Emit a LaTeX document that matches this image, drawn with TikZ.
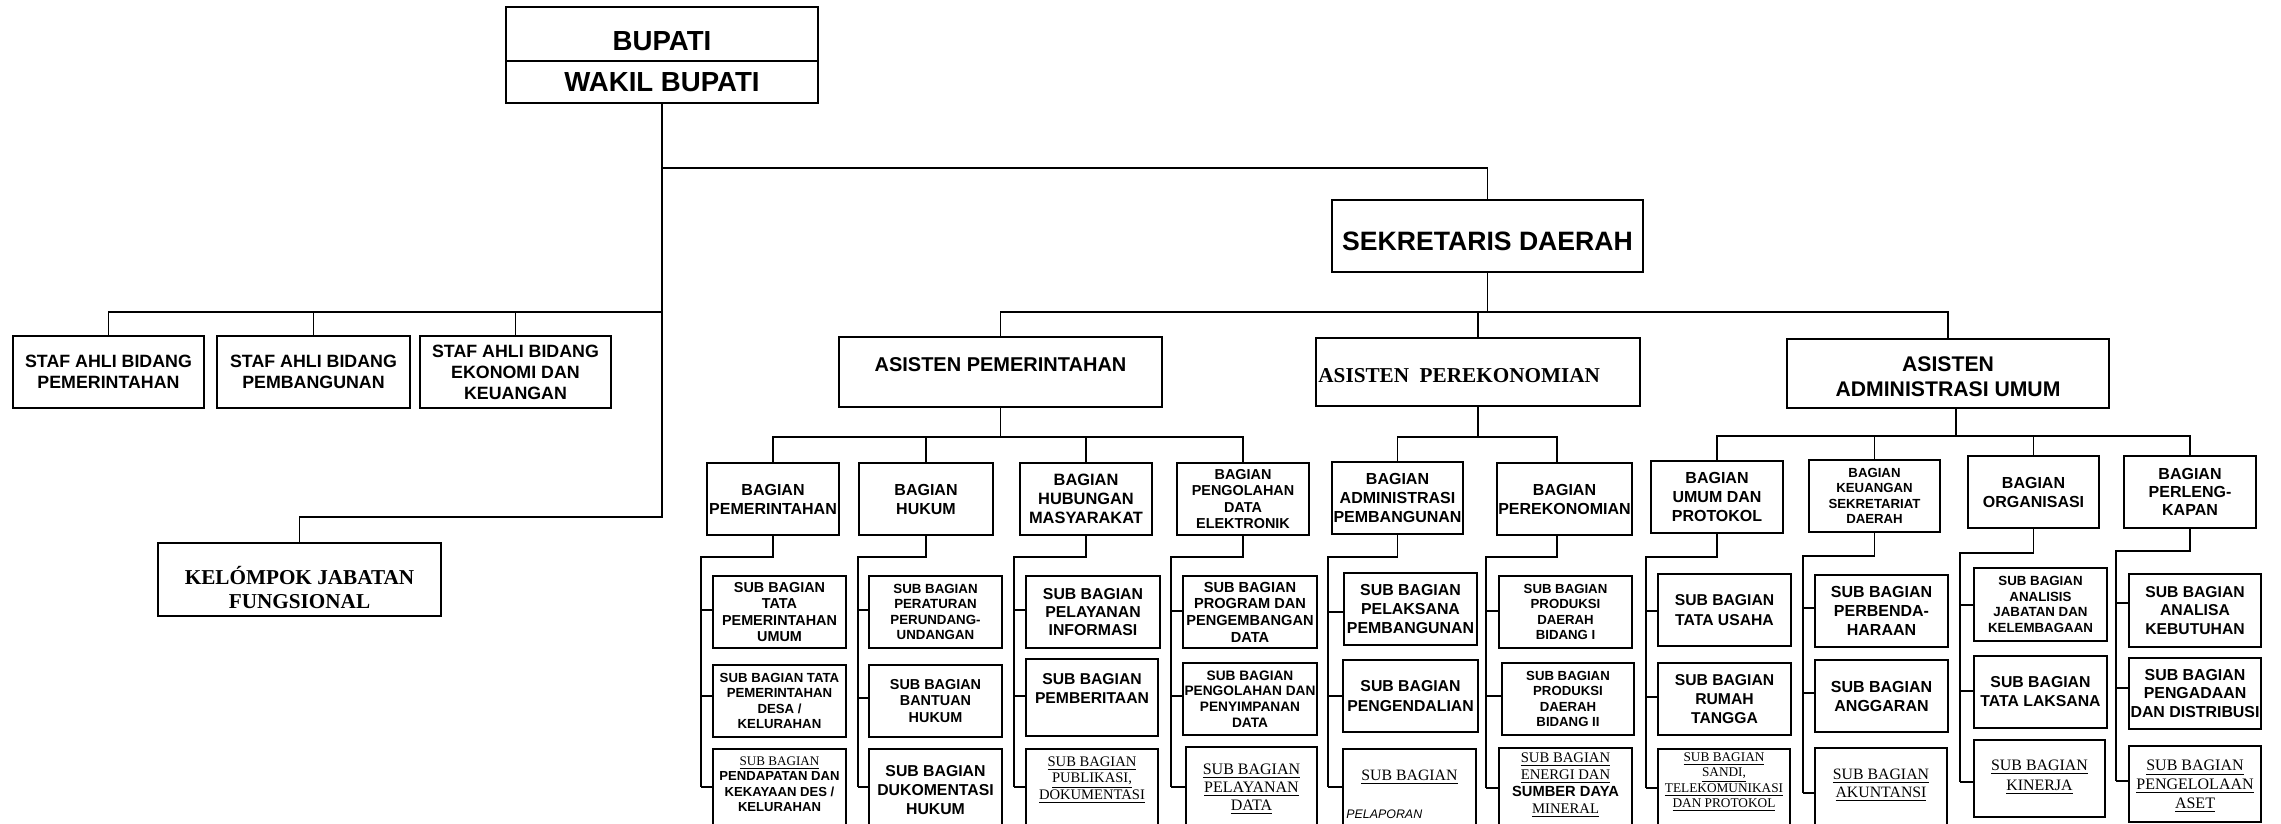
\documentclass[tikz,border=0pt]{standalone}
\usepackage{fontspec}
\setmainfont{Liberation Serif}
\setsansfont{Liberation Sans}
\tikzset{
  box/.style={draw, rectangle, line width=0.85pt, inner sep=0pt, align=center},
  fsans/.style 2 args={font=\sffamily\bfseries\fontsize{#1}{#2}\selectfont},
  fserif/.style 2 args={font=\rmfamily\fontsize{#1}{#2}\selectfont},
  fserifb/.style 2 args={font=\rmfamily\bfseries\fontsize{#1}{#2}\selectfont},
  conn/.style={line width=0.8pt},
  lbl/.style={inner sep=0pt, align=center},
}
\newcommand{\obox}[7][]{\node[box,#1,minimum width={(#5-#3)*0.5pt},minimum height={(#6-#4)*0.5pt}] (#2) at ({(#3+#5)/2},{(#4+#6)/2}) {#7};}
\newcommand{\uln}[1]{\underline{#1}}
\newcommand{\subcol}[9]{%
  \coordinate (#1-c0) at (#2,#3);
  \coordinate (#1-c1) at (#2,#5);
  \coordinate (#1-c2) at (#2,#7);
  \coordinate (#1-c3) at (#2,#9);
  \draw[conn] (#1.south) |- (#1-c0) -- (#1-c3);
  \draw[conn] (#1-c1) -- (#1-c1 -| #4.west);
  \draw[conn] (#1-c2) -- (#1-c2 -| #6.west);
  \draw[conn] (#1-c3) -- (#1-c3 -| #8.west);
}
\begin{document}
\begin{tikzpicture}[x=0.5pt,y=-0.5pt]
\useasboundingbox[fill=white] (0,0) rectangle (2281,824);

% ---------- top ----------
\obox{bupati}{506}{7}{818}{61}{}
\node[lbl,fsans={13.8}{15}] (bupatiT) at (662,41) {BUPATI};
\obox[fsans={13.8}{15}]{wakil}{506}{61}{818}{103}{WAKIL BUPATI}

\obox[fsans={8.9}{10.5}]{staf1}{13}{336}{204}{408}{STAF AHLI BIDANG\\PEMERINTAHAN}
\obox[fsans={8.9}{10.5}]{staf2}{217}{336}{410}{408}{STAF AHLI BIDANG\\PEMBANGUNAN}
\obox[fsans={8.9}{10.5}]{staf3}{420}{336}{611}{408}{STAF AHLI BIDANG\\EKONOMI DAN\\KEUANGAN}

\obox{kelompok}{158}{543}{441}{616}{}
\node[lbl,fserifb={10.6}{12}] (kelompokT) at (299.5,588) {KELÓMPOK JABATAN\\FUNGSIONAL};

\obox{sekda}{1332}{200}{1643}{272}{}
\node[lbl,fsans={13.3}{15}] (sekdaT) at (1487.5,241) {SEKRETARIS DAERAH};

\obox{ap}{839}{337}{1162}{407}{}
\node[lbl,fsans={10}{12},anchor=north] (apT) at (1000.5,357) {ASISTEN PEMERINTAHAN};
\obox{aperek}{1316}{338}{1640}{406}{}
\node[lbl,fserifb={10.6}{12},anchor=west] (aperekT) at (1318,376) {ASISTEN\ \ PEREKONOMIAN};
\obox{aadm}{1787}{339}{2109}{408}{}
\node[lbl,fsans={10.6}{12.5}] (aadmT) at (1948,377) {ASISTEN\\ADMINISTRASI UMUM};

% ---------- bagian ----------
\obox[fsans={8}{9.5}]{bpem}{707}{463}{839}{535}{BAGIAN\\PEMERINTAHAN}
\obox[fsans={8}{9.5}]{bhuk}{859}{463}{993}{535}{BAGIAN\\HUKUM}
\obox[fsans={8.2}{9.5}]{bhum}{1020}{463}{1152}{535}{BAGIAN\\HUBUNGAN\\MASYARAKAT}
\obox[fsans={7.2}{8.3}]{bpeng}{1177}{463}{1309}{535}{BAGIAN\\PENGOLAHAN\\DATA\\ELEKTRONIK}
\obox[fsans={8}{9.5}]{badm}{1332}{462}{1463}{534}{BAGIAN\\ADMINISTRASI\\PEMBANGUNAN}
\obox[fsans={8}{9.5}]{bperek}{1497}{463}{1632}{535}{BAGIAN\\PEREKONOMIAN}
\obox[fsans={8}{9.4}]{bum}{1651}{461}{1783}{533}{BAGIAN\\UMUM DAN\\PROTOKOL}
\obox[fsans={6.6}{7.7}]{bkeu}{1809}{460}{1940}{532}{BAGIAN\\KEUANGAN\\SEKRETARIAT\\DAERAH}
\obox[fsans={8}{9.5}]{borg}{1968}{456}{2099}{528}{BAGIAN\\ORGANISASI}
\obox[fsans={8}{9.2}]{bperl}{2124}{456}{2256}{528}{BAGIAN\\PERLENG-\\KAPAN}

% ---------- sub bagian ----------
\obox[fsans={7.2}{8.3}]{psub1}{713}{576}{846}{648}{SUB BAGIAN\\TATA\\PEMERINTAHAN\\UMUM}
\obox[fsans={6.6}{7.7}]{psub2}{713}{665}{846}{737}{SUB BAGIAN TATA\\PEMERINTAHAN\\DESA /\\KELURAHAN}
\obox{psub3}{713}{749}{846}{850}{}
\node[lbl,fsans={6.55}{7.75},anchor=north] (psub3T) at (779.5,756) {{\rmfamily\mdseries\uln{SUB BAGIAN}}\\PENDAPATAN DAN\\KEKAYAAN DES /\\KELURAHAN};

\obox[fsans={6.65}{7.8}]{hsub1}{869}{576}{1002}{648}{SUB BAGIAN\\PERATURAN\\PERUNDANG-\\UNDANGAN}
\obox[fsans={7.2}{8.3}]{hsub2}{869}{665}{1002}{737}{SUB BAGIAN\\BANTUAN\\HUKUM}
\obox{hsub3}{869}{749}{1002}{850}{}
\node[lbl,fsans={7.9}{9.5},anchor=north] (hsub3T) at (935.5,765) {SUB BAGIAN\\DUKOMENTASI\\HUKUM};

\obox[fsans={7.9}{9.2}]{msub1}{1026}{576}{1160}{648}{SUB BAGIAN\\PELAYANAN\\INFORMASI}
\obox{msub2}{1026}{659}{1158}{736}{}
\node[lbl,fsans={7.85}{9.5},anchor=north] (msub2T) at (1092,673) {SUB BAGIAN\\PEMBERITAAN};
\obox{msub3}{1026}{749}{1158}{850}{}
\node[lbl,fserif={7.3}{8.3},anchor=north] (msub3T) at (1092,756) {\uln{SUB BAGIAN}\\\uln{PUBLIKASI,}\\\uln{DOKUMENTASI}};

\obox[fsans={7.3}{8.3}]{gsub1}{1183}{576}{1317}{648}{SUB BAGIAN\\PROGRAM DAN\\PENGEMBANGAN\\DATA}
\obox[fsans={6.85}{7.8}]{gsub2}{1183}{663}{1317}{735}{SUB BAGIAN\\PENGOLAHAN DAN\\PENYIMPANAN\\DATA}
\obox{gsub3}{1186}{747}{1317}{850}{}
\node[lbl,fserif={8}{9.2},anchor=north] (gsub3T) at (1251.5,763) {\uln{SUB BAGIAN}\\\uln{PELAYANAN}\\\uln{DATA}};

\obox[fsans={7.95}{9.3}]{asub1}{1344}{573}{1477}{645}{SUB BAGIAN\\PELAKSANA\\PEMBANGUNAN}
\obox[fsans={7.9}{10}]{asub2}{1343}{660}{1478}{732}{SUB BAGIAN\\PENGENDALIAN}
\obox{asub3}{1343}{749}{1476}{850}{}
\node[lbl,fserif={7.9}{9},anchor=north] (asub3T) at (1409.5,770) {\uln{SUB BAGIAN}};
\node[lbl,font=\sffamily\itshape\fontsize{6.2}{7.5}\selectfont,anchor=north west] (asub3P) at (1346,809) {PELAPORAN};

\obox[fsans={6.6}{7.7}]{esub1}{1499}{576}{1632}{648}{SUB BAGIAN\\PRODUKSI\\DAERAH\\BIDANG I}
\obox[fsans={6.6}{7.7}]{esub2}{1502}{663}{1634}{735}{SUB BAGIAN\\PRODUKSI\\DAERAH\\BIDANG II}
\obox{esub3}{1499}{748}{1632}{850}{}
\node[lbl,fserif={7.35}{8.5},anchor=north] (esub3T) at (1565.5,752) {\uln{SUB BAGIAN}\\\uln{ENERGI DAN}\\{\sffamily\bfseries SUMBER DAYA}\\\uln{MINERAL}};

\obox[fsans={7.85}{9.6}]{usub1}{1658}{574}{1791}{646}{SUB BAGIAN\\TATA USAHA}
\obox[fsans={7.85}{9.4}]{usub2}{1658}{663}{1791}{735}{SUB BAGIAN\\RUMAH\\TANGGA}
\obox{usub3}{1658}{749}{1790}{850}{}
\node[lbl,fserif={6.65}{7.7},anchor=north] (usub3T) at (1724,752) {\uln{SUB BAGIAN}\\\uln{SANDI,}\\\uln{TELEKOMUNIKASI}\\\uln{DAN PROTOKOL}};

\obox[fsans={8}{9.3}]{ksub1}{1815}{575}{1948}{647}{SUB BAGIAN\\PERBENDA-\\HARAAN}
\obox[fsans={8}{9.5}]{ksub2}{1815}{660}{1948}{732}{SUB BAGIAN\\ANGGARAN}
\obox{ksub3}{1815}{748}{1947}{850}{}
\node[lbl,fserif={7.9}{8.9},anchor=north] (ksub3T) at (1881,769) {\uln{SUB BAGIAN}\\\uln{AKUNTANSI}};

\obox[fsans={6.65}{7.7}]{osub1}{1974}{568}{2107}{641}{SUB BAGIAN\\ANALISIS\\JABATAN DAN\\KELEMBAGAAN}
\obox[fsans={7.9}{9.5}]{osub2}{1974}{656}{2107}{728}{SUB BAGIAN\\TATA LAKSANA}
\obox{osub3}{1974}{740}{2105}{817}{}
\node[lbl,fserif={7.95}{9.6},anchor=north] (osub3T) at (2039.5,760) {\uln{SUB BAGIAN}\\\uln{KINERJA}};

\obox[fsans={7.85}{9.3}]{lsub1}{2129}{574}{2261}{647}{SUB BAGIAN\\ANALISA\\KEBUTUHAN}
\obox[fsans={7.95}{9.2}]{lsub2}{2129}{658}{2261}{729}{SUB BAGIAN\\PENGADAAN\\DAN DISTRIBUSI}
\obox{lsub3}{2129}{746}{2261}{822}{}
\node[lbl,fserif={8}{9.3},anchor=north] (lsub3T) at (2195,760) {\uln{SUB BAGIAN}\\\uln{PENGELOLAAN}\\\uln{ASET}};

% ---------- connectors: top ----------
\coordinate (sbus) at (662,168);
\coordinate (stbus) at (662,312);
\coordinate (kelbus) at (662,517);
\draw[conn] (wakil.south) -- (kelbus) -- (kelbus -| kelompok.north) -- (kelompok.north);
\draw[conn] (sbus) -| (sekda.north);
\draw[conn] (stbus) -| (staf1.north);
\draw[conn] (stbus) -| (staf2.north);
\draw[conn] (stbus) -| (staf3.north);

\coordinate (asbus) at (1487.5,312);
\draw[conn] (sekda.south) -- (asbus);
\draw[conn] (asbus) -| (ap.north);
\draw[conn] (asbus) -| (aperek.north);
\draw[conn] (asbus) -| (aadm.north);

% ---------- connectors: asisten to bagian ----------
\coordinate (pbus) at (1000.5,437);
\draw[conn] (ap.south) -- (pbus);
\draw[conn] (pbus) -| (bpem.north);
\draw[conn] (pbus) -| (bhuk.north);
\draw[conn] (pbus) -| (bhum.north);
\draw[conn] (pbus) -| (bpeng.north);

\coordinate (ebus) at (1478,437);
\draw[conn] (aperek.south) -- (ebus);
\draw[conn] (ebus) -| (badm.north);
\draw[conn] (ebus) -| ([xshift=-3.75pt]bperek.north);

\coordinate (abus) at (1956,436);
\draw[conn] ([xshift=4pt]aadm.south) -- (abus);
\draw[conn] (abus) -| (bum.north);
\draw[conn] (abus) -| (bkeu.north);
\draw[conn] (abus) -| (borg.north);
\draw[conn] (abus) -| (bperl.north);

% ---------- connectors: bagian to sub bagian ----------
\subcol{bpem}{701}{557}{psub1}{610}{psub2}{696}{psub3}{787}
\subcol{bhuk}{858}{557}{hsub1}{610}{hsub2}{698}{hsub3}{787}
\subcol{bhum}{1014}{557}{msub1}{610}{msub2}{696}{msub3}{787}
\subcol{bpeng}{1171}{557}{gsub1}{611}{gsub2}{696}{gsub3}{787}
\subcol{badm}{1328}{557}{asub1}{612}{asub2}{696}{asub3}{787}
\coordinate (bperek-c0) at (1486,557);
\coordinate (bperek-c1) at (1486,611);
\coordinate (bperek-c2) at (1486,696);
\coordinate (bperek-c3) at (1486,788);
\draw[conn] ([xshift=-3.75pt]bperek.south) |- (bperek-c0) -- (bperek-c3);
\draw[conn] (bperek-c1) -- (bperek-c1 -| esub1.west);
\draw[conn] (bperek-c2) -- (bperek-c2 -| esub2.west);
\draw[conn] (bperek-c3) -- (bperek-c3 -| esub3.west);
\subcol{bum}{1646}{557}{usub1}{611}{usub2}{697}{usub3}{788}
\subcol{bkeu}{1803}{556}{ksub1}{608}{ksub2}{693}{ksub3}{793}
\subcol{borg}{1960}{553}{osub1}{605}{osub2}{691}{osub3}{782}
\subcol{bperl}{2116}{551}{lsub1}{603}{lsub2}{688}{lsub3}{781}
\end{tikzpicture}
\end{document}
